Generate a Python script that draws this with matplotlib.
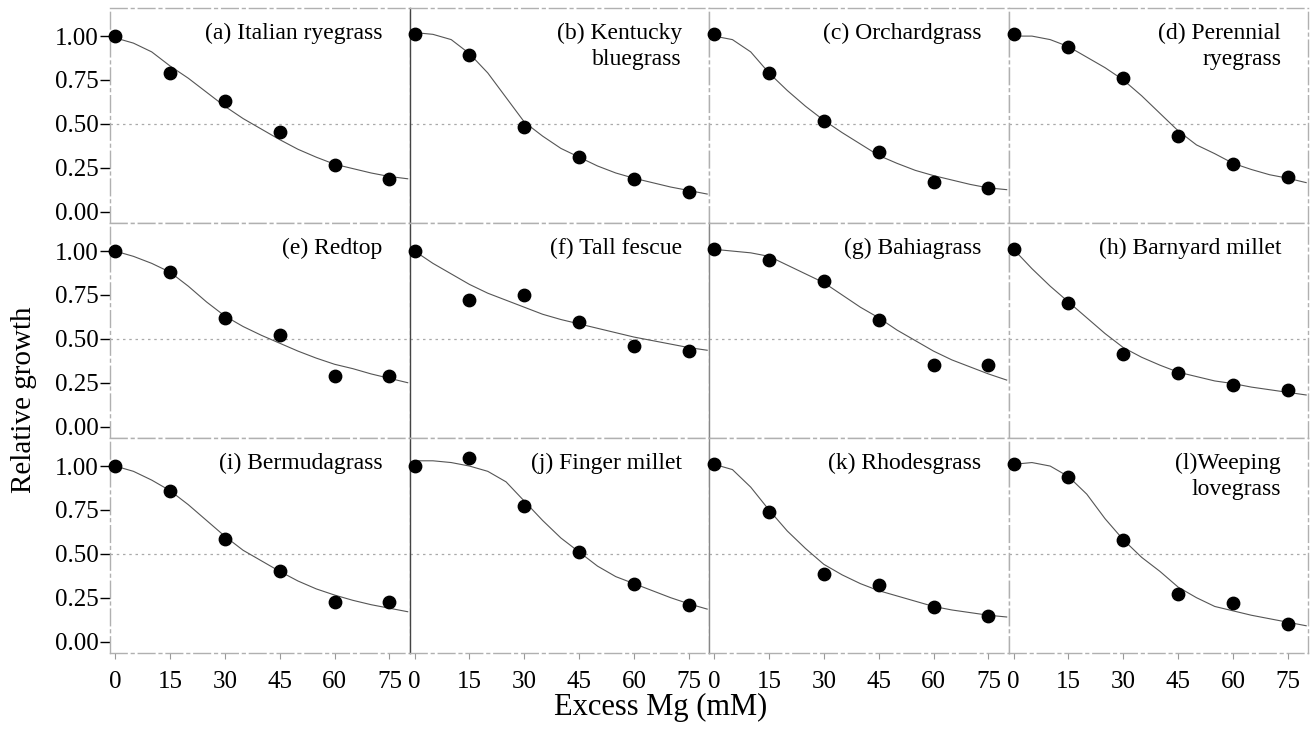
import numpy as np
import matplotlib
matplotlib.use('Agg')
import matplotlib.pyplot as plt

plt.rcParams['font.family'] = ['Liberation Serif', 'DejaVu Serif']

# Mg levels (mM) where growth was measured
conc = [0, 15, 30, 45, 60, 75]

fit_x = [0, 5, 10, 15, 20, 25, 30, 35, 40, 45, 50, 55, 60, 65, 70, 75, 80]

labels = ['(a) Italian ryegrass', '(b) Kentucky\nbluegrass', '(c) Orchardgrass',
          '(d) Perennial\nryegrass', '(e) Redtop', '(f) Tall fescue',
          '(g) Bahiagrass', '(h) Barnyard millet', '(i) Bermudagrass',
          '(j) Finger millet', '(k) Rhodesgrass', '(l)Weeping\nlovegrass']

# observed relative growth
obs_a = [1.00, 0.79, 0.63, 0.455, 0.265, 0.185]
obs_b = [1.01, 0.895, 0.48, 0.31, 0.185, 0.11]
obs_c = [1.01, 0.79, 0.515, 0.34, 0.17, 0.135]
obs_d = [1.01, 0.94, 0.76, 0.43, 0.27, 0.195]
obs_e = [1.00, 0.88, 0.62, 0.52, 0.29, 0.29]
obs_f = [1.00, 0.72, 0.75, 0.595, 0.46, 0.43]
obs_g = [1.01, 0.95, 0.83, 0.61, 0.35, 0.35]
obs_h = [1.01, 0.705, 0.415, 0.305, 0.235, 0.21]
obs_i = [1.00, 0.86, 0.585, 0.40, 0.225, 0.225]
obs_j = [1.00, 1.045, 0.77, 0.51, 0.33, 0.21]
obs_k = [1.01, 0.74, 0.385, 0.325, 0.195, 0.145]
obs_l = [1.01, 0.94, 0.58, 0.27, 0.22, 0.10]

# fitted response curves, read at fit_x
fit_a = [0.99, 0.96, 0.91, 0.83, 0.76, 0.68, 0.60, 0.53, 0.47, 0.41, 0.355, 0.31, 0.27, 0.245, 0.22, 0.20, 0.187]
fit_b = [1.02, 1.01, 0.98, 0.90, 0.79, 0.65, 0.51, 0.43, 0.36, 0.31, 0.26, 0.22, 0.19, 0.165, 0.14, 0.12, 0.10]
fit_c = [1.00, 0.98, 0.91, 0.79, 0.69, 0.60, 0.52, 0.45, 0.385, 0.32, 0.275, 0.235, 0.205, 0.18, 0.155, 0.135, 0.125]
fit_d = [1.00, 1.00, 0.98, 0.94, 0.88, 0.82, 0.75, 0.66, 0.56, 0.46, 0.38, 0.33, 0.275, 0.24, 0.21, 0.19, 0.165]
fit_e = [1.00, 0.97, 0.93, 0.88, 0.80, 0.71, 0.63, 0.57, 0.52, 0.475, 0.43, 0.39, 0.355, 0.33, 0.30, 0.275, 0.25]
fit_f = [1.00, 0.93, 0.87, 0.81, 0.76, 0.72, 0.68, 0.64, 0.61, 0.585, 0.56, 0.535, 0.51, 0.49, 0.47, 0.45, 0.435]
fit_g = [1.01, 1.00, 0.99, 0.97, 0.92, 0.87, 0.82, 0.75, 0.68, 0.62, 0.55, 0.49, 0.43, 0.38, 0.34, 0.30, 0.265]
fit_h = [1.01, 0.90, 0.80, 0.71, 0.62, 0.53, 0.45, 0.395, 0.35, 0.31, 0.285, 0.26, 0.245, 0.225, 0.21, 0.195, 0.18]
fit_i = [1.00, 0.97, 0.92, 0.86, 0.78, 0.69, 0.60, 0.52, 0.46, 0.40, 0.345, 0.30, 0.265, 0.235, 0.21, 0.19, 0.17]
fit_j = [1.03, 1.03, 1.02, 1.00, 0.97, 0.91, 0.80, 0.69, 0.59, 0.51, 0.43, 0.37, 0.33, 0.29, 0.25, 0.215, 0.185]
fit_k = [1.01, 0.98, 0.88, 0.75, 0.63, 0.53, 0.44, 0.38, 0.33, 0.29, 0.26, 0.23, 0.20, 0.18, 0.165, 0.15, 0.14]
fit_l = [1.01, 1.02, 1.00, 0.94, 0.84, 0.70, 0.58, 0.48, 0.40, 0.31, 0.25, 0.20, 0.175, 0.15, 0.13, 0.11, 0.09]

observed = [obs_a, obs_b, obs_c, obs_d, obs_e, obs_f, obs_g, obs_h, obs_i, obs_j, obs_k, obs_l]
fitted = [fit_a, fit_b, fit_c, fit_d, fit_e, fit_f, fit_g, fit_h, fit_i, fit_j, fit_k, fit_l]

yticks = [0.0, 0.25, 0.5, 0.75, 1.0]
ytick_labels = ['0.00', '0.25', '0.50', '0.75', '1.00']

fig, axes = plt.subplots(3, 4, figsize=(13.13, 7.29), dpi=100)
fig.subplots_adjust(left=0.0838, right=0.9962, top=0.989, bottom=0.1043,
                    wspace=0, hspace=0)

for k, ax in enumerate(axes.flat):
    row, col = divmod(k, 4)
    ax.axhline(0.5, color='#aaaaaa', lw=0.9, ls=(0, (2, 3)), zorder=0)
    ax.plot(fit_x, fitted[k], color='#555555', lw=0.8, zorder=2)
    ax.scatter(conc, observed[k], s=80, color='black', zorder=3, clip_on=False)
    ax.text(0.91, 0.93, labels[k], transform=ax.transAxes, ha='right', va='top',
            fontsize=17, linespacing=1.3)

    ax.set_xlim(-1.4, 80.5)
    ax.set_ylim(-0.065, 1.16)
    ax.set_xticks(conc)
    ax.set_yticks(yticks)

    for side, sp in ax.spines.items():
        sp.set_color('#b0b0b0')
        sp.set_linewidth(1.0)
        sp.set_linestyle((0, (12, 3, 2, 3)))
    if col == 1:
        ax.spines['left'].set_color('#444444')
        ax.spines['left'].set_linestyle('-')
    if col == 2 and row > 0:
        ax.spines['left'].set_color('#888888')
        ax.spines['left'].set_linestyle('-')

    if col == 0:
        ax.set_yticklabels(ytick_labels)
        ax.tick_params(axis='y', length=7, width=1.0, color='black',
                       labelsize=18, pad=1)
    else:
        ax.tick_params(axis='y', length=0, labelleft=False)
    if row == 2:
        ax.set_xticklabels([str(c) for c in conc])
        ax.tick_params(axis='x', length=4, width=0.8, color='#999999',
                       labelsize=18, pad=9)
    else:
        ax.tick_params(axis='x', length=0, labelbottom=False)

fig.text(0.018, 0.452, 'Relative growth', rotation=90, ha='center', va='center',
         fontsize=21)
fig.text(0.503, 0.03, 'Excess Mg (mM)', ha='center', va='center', fontsize=22)

plt.savefig('out.png', dpi=100)
plt.close('all')
